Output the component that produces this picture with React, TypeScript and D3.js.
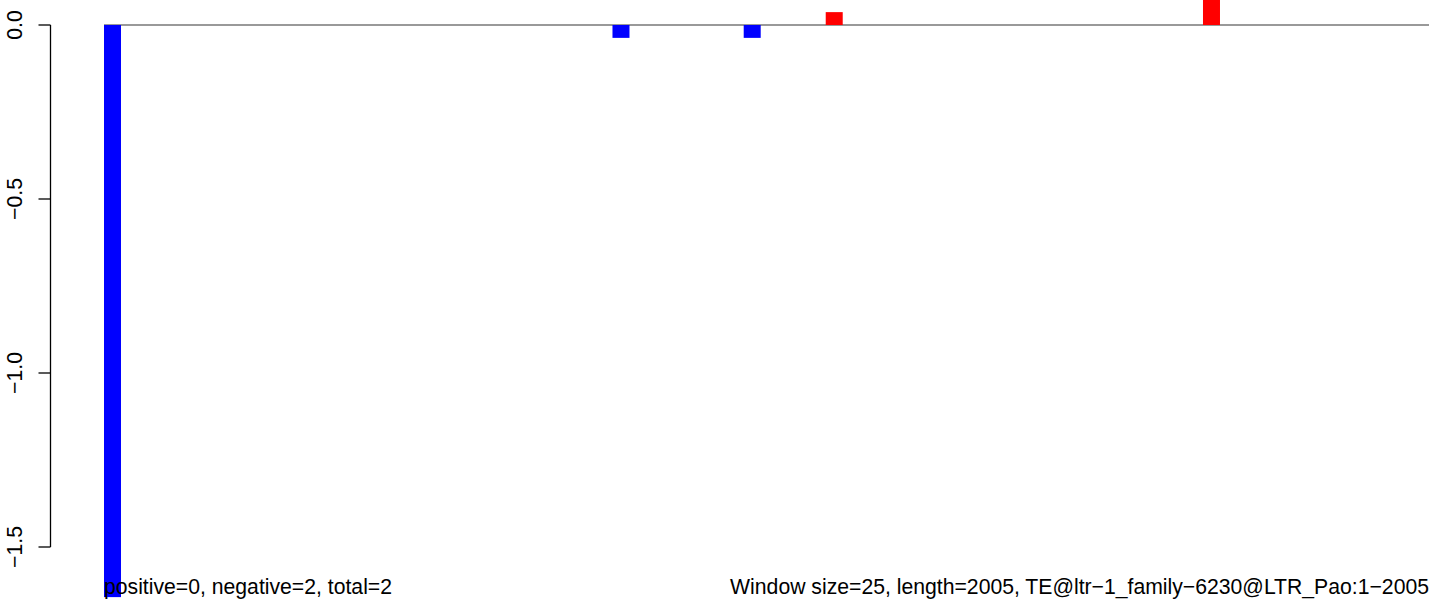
import * as d3 from 'd3';

// window start positions (bp) and score for windows with a signal
const positions = [0, 775, 975, 1100, 1675];
const scores = [-1.644, -0.037, -0.037, 0.037, 0.08];
const yTicks = [0, -0.5, -1, -1.5];
const seqLength = 2005;
const leftLabel = 'positive=0, negative=2, total=2';
const rightLabel = 'Window size=25, length=2005, TE@ltr\u22121_family\u22126230@LTR_Pao:1\u22122005';

const W = 1429;
const H = 602;
const AXIS_X = 50.5;
const BAR_W = 17;
const FONT = 'Liberation Sans, Arial, sans-serif';
const FS = 21.2;

const fmt = (v: number) => d3.format('.1f')(v).replace('-', '\u2212');

export default function App() {
  const x = d3.scaleLinear().domain([0, seqLength]).range([112.5, 1428]);
  const y = d3.scaleLinear().domain([-1.5, 0]).range([547, 25]);
  const y0 = y(0);

  return (
    <div style={{ position: 'absolute', left: 0, top: 0 }}>
      <svg width={W} height={H} style={{ display: 'block', background: '#fff' }}>
        <line
          x1={x(0) - BAR_W / 2} x2={W}
          y1={y0} y2={y0}
          stroke="#999" strokeWidth={2}
        />
        {positions.map((p, i) => {
          const v = scores[i];
          return (
            <rect
              key={p}
              x={x(p) - BAR_W / 2}
              width={BAR_W}
              y={Math.min(y(v), y0)}
              height={Math.abs(y(v) - y0)}
              fill={v < 0 ? '#0000ff' : '#ff0000'}
            />
          );
        })}
        <line x1={AXIS_X} x2={AXIS_X} y1={y(0)} y2={y(-1.5)} stroke="#000" strokeWidth={1.3} />
        {yTicks.map(t => (
          <g key={t}>
            <line x1={AXIS_X - 12} x2={AXIS_X} y1={y(t)} y2={y(t)} stroke="#000" strokeWidth={1.3} />
            <text
              transform={`translate(22,${y(t)}) rotate(-90)`}
              textAnchor="middle"
              fontFamily={FONT}
              fontSize={FS}
            >
              {fmt(t)}
            </text>
          </g>
        ))}
        <text x={104} y={594} fontFamily={FONT} fontSize={FS}>{leftLabel}</text>
        <text x={1429} y={594} textAnchor="end" fontFamily={FONT} fontSize={FS}>{rightLabel}</text>
      </svg>
    </div>
  );
}
